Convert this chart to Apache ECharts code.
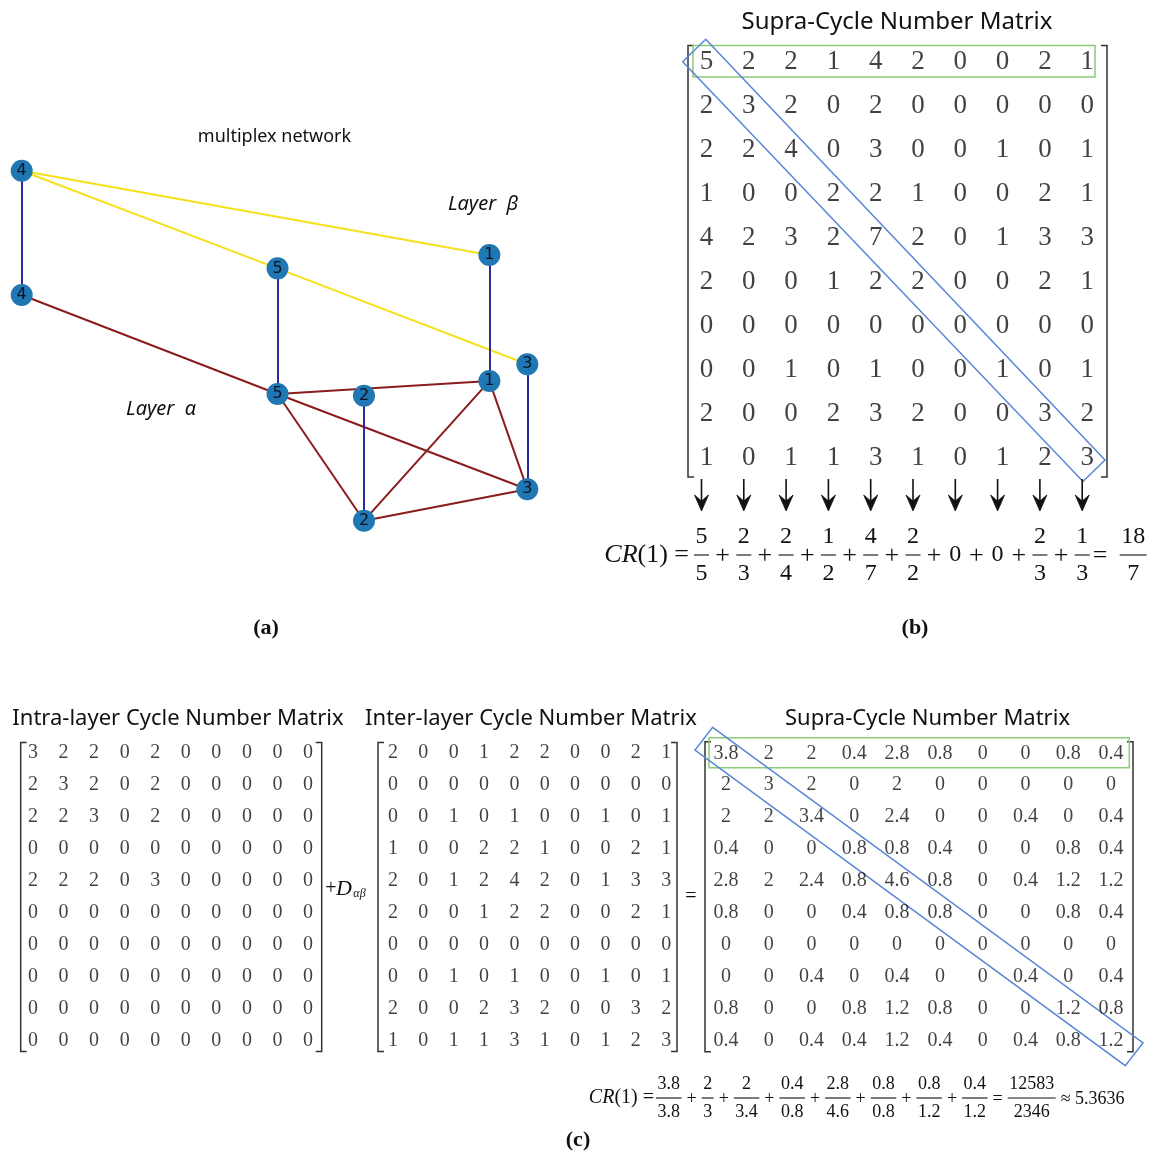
<!DOCTYPE html>
<html>
<head>
<meta charset="utf-8">
<script src="https://cdn.jsdelivr.net/npm/echarts@6/dist/echarts.min.js"></script>
<style>
html,body{margin:0;padding:0;background:#fff;}
#chart{width:1151px;height:1155px;}
</style>
</head>
<body>
<div id="chart"></div>
<script>
// ---------- multiplex network (layer beta on top, layer alpha below) ----------
const nodeIds  = ['b4', 'a4', 'b5', 'a5', 'b2', 'a2', 'b1', 'a1', 'b3', 'a3'];
const nodeTags = ['4', '4', '5', '5', '2', '2', '1', '1', '3', '3'];
const nodeX    = [0, 0, 50.6, 50.6, 67.7, 67.7, 92.5, 92.5, 100, 100];
const nodeY    = [100, 64.5, 72.1, 36.2, 35.7, 0, 75.9, 39.9, 44.7, 9.0];
const betaEdges  = [['b4', 'b1'], ['b4', 'b5'], ['b5', 'b3']];
const alphaEdges = [['a4', 'a5'], ['a5', 'a1'], ['a5', 'a2'], ['a5', 'a3'], ['a1', 'a2'], ['a1', 'a3'], ['a2', 'a3']];
const interEdges = [['b4', 'a4'], ['b5', 'a5'], ['b1', 'a1'], ['b3', 'a3'], ['b2', 'a2']];

// ---------- cycle number matrices ----------
const supraB = [
  [5, 2, 2, 1, 4, 2, 0, 0, 2, 1],
  [2, 3, 2, 0, 2, 0, 0, 0, 0, 0],
  [2, 2, 4, 0, 3, 0, 0, 1, 0, 1],
  [1, 0, 0, 2, 2, 1, 0, 0, 2, 1],
  [4, 2, 3, 2, 7, 2, 0, 1, 3, 3],
  [2, 0, 0, 1, 2, 2, 0, 0, 2, 1],
  [0, 0, 0, 0, 0, 0, 0, 0, 0, 0],
  [0, 0, 1, 0, 1, 0, 0, 1, 0, 1],
  [2, 0, 0, 2, 3, 2, 0, 0, 3, 2],
  [1, 0, 1, 1, 3, 1, 0, 1, 2, 3]
];
const intraC = [
  [3, 2, 2, 0, 2, 0, 0, 0, 0, 0],
  [2, 3, 2, 0, 2, 0, 0, 0, 0, 0],
  [2, 2, 3, 0, 2, 0, 0, 0, 0, 0],
  [0, 0, 0, 0, 0, 0, 0, 0, 0, 0],
  [2, 2, 2, 0, 3, 0, 0, 0, 0, 0],
  [0, 0, 0, 0, 0, 0, 0, 0, 0, 0],
  [0, 0, 0, 0, 0, 0, 0, 0, 0, 0],
  [0, 0, 0, 0, 0, 0, 0, 0, 0, 0],
  [0, 0, 0, 0, 0, 0, 0, 0, 0, 0],
  [0, 0, 0, 0, 0, 0, 0, 0, 0, 0]
];
const interC = [
  [2, 0, 0, 1, 2, 2, 0, 0, 2, 1],
  [0, 0, 0, 0, 0, 0, 0, 0, 0, 0],
  [0, 0, 1, 0, 1, 0, 0, 1, 0, 1],
  [1, 0, 0, 2, 2, 1, 0, 0, 2, 1],
  [2, 0, 1, 2, 4, 2, 0, 1, 3, 3],
  [2, 0, 0, 1, 2, 2, 0, 0, 2, 1],
  [0, 0, 0, 0, 0, 0, 0, 0, 0, 0],
  [0, 0, 1, 0, 1, 0, 0, 1, 0, 1],
  [2, 0, 0, 2, 3, 2, 0, 0, 3, 2],
  [1, 0, 1, 1, 3, 1, 0, 1, 2, 3]
];
const supraC = [
  [3.8, 2, 2, 0.4, 2.8, 0.8, 0, 0, 0.8, 0.4],
  [2, 3, 2, 0, 2, 0, 0, 0, 0, 0],
  [2, 2, 3.4, 0, 2.4, 0, 0, 0.4, 0, 0.4],
  [0.4, 0, 0, 0.8, 0.8, 0.4, 0, 0, 0.8, 0.4],
  [2.8, 2, 2.4, 0.8, 4.6, 0.8, 0, 0.4, 1.2, 1.2],
  [0.8, 0, 0, 0.4, 0.8, 0.8, 0, 0, 0.8, 0.4],
  [0, 0, 0, 0, 0, 0, 0, 0, 0, 0],
  [0, 0, 0.4, 0, 0.4, 0, 0, 0.4, 0, 0.4],
  [0.8, 0, 0, 0.8, 1.2, 0.8, 0, 0, 1.2, 0.8],
  [0.4, 0, 0.4, 0.4, 1.2, 0.4, 0, 0.4, 0.8, 1.2]
];
const resultB = ['18', '7'];
const resultC = ['12583', '2346'];
const approxC = '5.3636';

// ---------- layout ----------
const SERIF = '"Liberation Serif", "Times New Roman", serif';
const SANS = '"Noto Sans", "Open Sans", sans-serif';
const INK = '#111';
const YELLOW = '#f4e01c', DARKRED = '#8b1c1c', NAVY = '#2b2b9a', NODE = '#1f77b4';
const GREEN = '#8ccb78', BLUE = '#5a86d8';

// each matrix: first column centre, column step, first row centre, row step, bracket box
const mats = [
  {m: supraB, x0: 706.5, dx: 42.3, y0: 61.5, dy: 44.1, fs: 27, br: {l: 688, r: 1107, t: 45.5, b: 477}},
  {m: intraC, x0: 33, dx: 30.56, y0: 753, dy: 31.95, fs: 20, br: {l: 20.7, r: 321.7, t: 742.5, b: 1051.5}},
  {m: interC, x0: 393, dx: 30.35, y0: 753, dy: 31.95, fs: 20, br: {l: 378, r: 677, t: 742.5, b: 1051.5}},
  {m: supraC, x0: 726, dx: 42.78, y0: 753.3, dy: 31.9, fs: 20, br: {l: 705, r: 1133, t: 741.7, b: 1051.7}}
];

const idx = Array.from({length: 10}, (_, i) => String(i));
const grids = [{left: 21.7, top: 170.7, width: 505.6, height: 350}];
const xAxes = [{type: 'value', gridIndex: 0, min: 0, max: 100, show: false}];
const yAxes = [{type: 'value', gridIndex: 0, min: 0, max: 100, show: false}];
mats.forEach((M, k) => {
  grids.push({left: M.x0 - M.dx / 2, top: M.y0 - M.dy / 2, width: M.dx * 10, height: M.dy * 10});
  xAxes.push({type: 'category', gridIndex: k + 1, data: idx, show: false});
  yAxes.push({type: 'category', gridIndex: k + 1, data: idx, inverse: true, show: false});
});
grids.forEach(g => { g.containLabel = false; g.outerBoundsMode = 'none'; });

const ctx2d = document.createElement('canvas').getContext('2d');
function textW(str, font) { ctx2d.font = font; return ctx2d.measureText(str).width; }
function txt(text, font, align) {
  return {text, font, fill: INK, align: align, verticalAlign: 'middle',
          textAlign: align, textVerticalAlign: 'middle'};
}
function textEl(x, y, text, font, align) {
  return {type: 'text', x: x, y: y, silent: true, style: txt(text, font, align || 'center')};
}
function fraction(cx, yBar, num, den, font, up, down) {
  const w = Math.max(textW(num, font), textW(den, font)) + 3;
  return [
    textEl(cx, yBar - up, num, font),
    {type: 'line', silent: true, shape: {x1: cx - w / 2, y1: yBar, x2: cx + w / 2, y2: yBar},
     style: {stroke: INK, lineWidth: 1.1}},
    textEl(cx, yBar + down, den, font)
  ];
}
function bracket(br, serif) {
  const st = {stroke: '#333', lineWidth: 1.5, fill: 'none'};
  return [
    {type: 'polyline', silent: true, shape: {points: [[br.l + serif, br.t], [br.l, br.t], [br.l, br.b], [br.l + serif, br.b]]}, style: st},
    {type: 'polyline', silent: true, shape: {points: [[br.r - serif, br.t], [br.r, br.t], [br.r, br.b], [br.r - serif, br.b]]}, style: st}
  ];
}

const G = [];
// titles and captions
G.push(textEl(274.5, 137, 'multiplex network', '18px ' + SANS));
G.push(textEl(483, 204, 'Layer  β', 'italic 20px ' + SANS));
G.push(textEl(161, 409, 'Layer  α', 'italic 20px ' + SANS));
G.push(textEl(897, 22, 'Supra-Cycle Number Matrix', '24px ' + SANS));
G.push(textEl(178, 719, 'Intra-layer Cycle Number Matrix', '22px ' + SANS));
G.push(textEl(531, 719, 'Inter-layer Cycle Number Matrix', '22px ' + SANS));
G.push(textEl(927.5, 719, 'Supra-Cycle Number Matrix', '22px ' + SANS));
G.push(textEl(266, 628, '(a)', 'bold 22px ' + SERIF));
G.push(textEl(915, 628, '(b)', 'bold 22px ' + SERIF));
G.push(textEl(578, 1140, '(c)', 'bold 22px ' + SERIF));

// matrix brackets
mats.forEach(M => G.push(...bracket(M.br, 6)));

// first-row and diagonal highlights
G.push({type: 'rect', silent: true, shape: {x: 693, y: 45.5, width: 402, height: 31.5},
        style: {fill: 'none', stroke: GREEN, lineWidth: 1.5}});
G.push({type: 'polygon', silent: true, shape: {points: [[705.7, 39.3], [1105, 460], [1083, 481.5], [682.7, 61.7]]},
        style: {fill: 'none', stroke: BLUE, lineWidth: 1.5}});
G.push({type: 'rect', silent: true, shape: {x: 709, y: 737.7, width: 420.3, height: 30},
        style: {fill: 'none', stroke: GREEN, lineWidth: 1.5}});
G.push({type: 'polygon', silent: true, shape: {points: [[712.7, 727.3], [1143, 1043], [1125.3, 1065.7], [695, 750]]},
        style: {fill: 'none', stroke: BLUE, lineWidth: 1.5}});

// operators between the matrices of (c)
G.push(textEl(331, 889, '+', '20px ' + SERIF));
G.push(textEl(344, 889, 'D', 'italic 22px ' + SERIF));
G.push(textEl(359.5, 894, 'αβ', 'italic 12px ' + SERIF));
G.push(textEl(691, 896.5, '=', '20px ' + SERIF));

// (b): arrows and CR(1) built from the first row and the diagonal
(function () {
  const M = mats[0];
  const row0 = M.m[0];
  const diag = M.m.map((r, i) => r[i]);
  const fB = '24px ' + SERIF;
  const fOp = '26px ' + SERIF;
  const yBar = 555;
  const xs = row0.map((_, j) => M.x0 + j * M.dx - 5);
  xs.forEach(x => {
    G.push({type: 'line', silent: true, shape: {x1: x, y1: 479, x2: x, y2: 506}, style: {stroke: INK, lineWidth: 1.6}});
    G.push({type: 'polygon', silent: true, shape: {points: [[x - 7, 495], [x, 511], [x + 7, 495], [x, 501]]},
            style: {fill: INK, stroke: INK, lineWidth: 0.8}});
  });
  G.push({type: 'text', x: 689, y: yBar, silent: true, style: {
    text: '{i|CR}{n|(1) =}', fill: INK, align: 'right', verticalAlign: 'middle',
    textAlign: 'right', textVerticalAlign: 'middle',
    rich: {i: {font: 'italic 26px ' + SERIF, fill: INK}, n: {font: '26px ' + SERIF, fill: INK}}
  }});
  xs.forEach((x, j) => {
    if (row0[j] === 0) G.push(textEl(x, yBar, '0', fB));
    else G.push(...fraction(x, yBar, String(row0[j]), String(diag[j]), fB, 18, 19));
    if (j < xs.length - 1) G.push(textEl((x + xs[j + 1]) / 2, yBar + 1, '+', fOp));
  });
  const last = xs[xs.length - 1];
  G.push(textEl(last + 18, yBar + 1, '=', fOp));
  G.push(...fraction(last + 51, yBar, resultB[0], resultB[1], fB, 18, 19));
})();

// (c): CR(1) from the non-zero entries of the first row over the diagonal
(function () {
  const m = supraC;
  const row0 = m[0];
  const diag = m.map((r, i) => r[i]);
  const fC = '18px ' + SERIF;
  const yBar = 1098, up = 13.5, down = 14, gap = 5;
  const plusW = textW('+', fC);
  const terms = [];
  row0.forEach((v, j) => { if (v !== 0) terms.push([String(v), String(diag[j])]); });
  let x = 656;
  G.push({type: 'text', x: x - 2, y: yBar, silent: true, style: {
    text: '{i|CR}{n|(1) =}', fill: INK, align: 'right', verticalAlign: 'middle',
    textAlign: 'right', textVerticalAlign: 'middle',
    rich: {i: {font: 'italic 20px ' + SERIF, fill: INK}, n: {font: '20px ' + SERIF, fill: INK}}
  }});
  terms.forEach((t, k) => {
    const w = Math.max(textW(t[0], fC), textW(t[1], fC)) + 3;
    G.push(...fraction(x + w / 2, yBar, t[0], t[1], fC, up, down));
    x += w;
    const op = k < terms.length - 1 ? '+' : '=';
    G.push(textEl(x + gap + plusW / 2, yBar + 1, op, fC));
    x += 2 * gap + plusW;
  });
  const wR = Math.max(textW(resultC[0], fC), textW(resultC[1], fC)) + 3;
  G.push(...fraction(x + wR / 2, yBar, resultC[0], resultC[1], fC, up, down));
  x += wR + gap;
  G.push(textEl(x, yBar + 1, '≈ ' + approxC, fC, 'left'));
})();

// ---------- series ----------
const series = [];
series.push({
  type: 'graph',
  coordinateSystem: 'cartesian2d',
  xAxisIndex: 0, yAxisIndex: 0,
  symbol: 'circle', symbolSize: 22,
  silent: true,
  itemStyle: {color: NODE},
  label: {show: true, position: 'inside', formatter: p => p.data.tag,
          color: '#0e1420', fontSize: 16, fontFamily: '"DejaVu Sans", sans-serif'},
  lineStyle: {width: 2, opacity: 1, curveness: 0},
  emphasis: {disabled: true},
  data: nodeIds.map((id, i) => ({name: id, value: [nodeX[i], nodeY[i]], tag: nodeTags[i]})),
  links: [
    ...betaEdges.map(e => ({source: e[0], target: e[1], lineStyle: {color: YELLOW}})),
    ...alphaEdges.map(e => ({source: e[0], target: e[1], lineStyle: {color: DARKRED}})),
    ...interEdges.map(e => ({source: e[0], target: e[1], lineStyle: {color: NAVY}}))
  ]
});
mats.forEach((M, k) => {
  const data = [];
  M.m.forEach((row, i) => row.forEach((v, j) => data.push([j, i, v])));
  series.push({
    type: 'scatter',
    xAxisIndex: k + 1, yAxisIndex: k + 1,
    symbol: 'circle', symbolSize: 1,
    silent: true,
    itemStyle: {color: 'rgba(0,0,0,0)'},
    emphasis: {disabled: true},
    label: {show: true, position: 'inside', formatter: p => String(p.value[2]),
            color: INK, fontSize: M.fs, fontFamily: SERIF},
    data: data
  });
});

const chart = echarts.init(document.getElementById('chart'), null, {renderer: 'canvas'});
chart.setOption({
  animation: false,
  backgroundColor: '#fff',
  grid: grids,
  xAxis: xAxes,
  yAxis: yAxes,
  series: series,
  graphic: {elements: G}
});
</script>
</body>
</html>
